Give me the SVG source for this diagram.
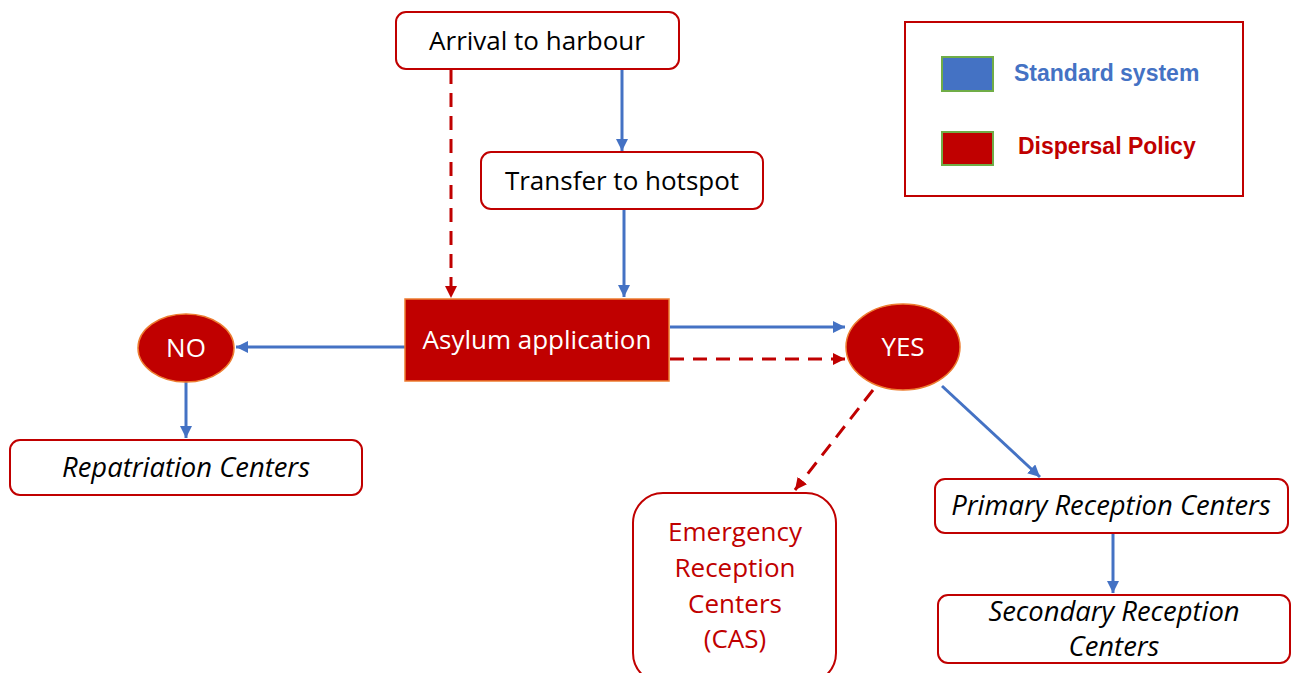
<svg xmlns="http://www.w3.org/2000/svg" width="1299" height="673" viewBox="0 0 1299 673">
<defs>
<marker id="ab" viewBox="0 0 10 10" refX="10" refY="5" markerWidth="4" markerHeight="4" markerUnits="strokeWidth" orient="auto"><path d="M0,0 L10,5 L0,10 z" fill="#4472c4"/></marker>
<marker id="ar" viewBox="0 0 10 10" refX="10" refY="5" markerWidth="4" markerHeight="4" markerUnits="strokeWidth" orient="auto"><path d="M0,0 L10,5 L0,10 z" fill="#c00000"/></marker>
<style>
.box{fill:#fff;stroke:#c00000;stroke-width:2}
.red{fill:#c00000;stroke:#ed7d31;stroke-width:1.5}
.t{font-family:"Open Sans","Noto Sans",sans-serif;font-size:26px;fill:#000;text-anchor:middle}
.w{fill:#fff}
.i{font-style:italic;font-size:27.4px}
.rt{fill:#c00000}
.b{stroke:#4472c4;stroke-width:3;fill:none;marker-end:url(#ab)}
.r{stroke:#c00000;stroke-width:3;fill:none;stroke-dasharray:14 9;marker-end:url(#ar)}
.lg{font-family:"Liberation Sans",Arial,sans-serif;font-size:23px;font-weight:bold}
</style>
</defs>
<rect width="1299" height="673" fill="#fff"/>
<g id="connectors">
<line class="r" x1="451" y1="70" x2="451" y2="298"/>
<line class="b" x1="622" y1="70" x2="622" y2="151"/>
<line class="b" x1="624" y1="209" x2="624" y2="297"/>
<line class="b" x1="405" y1="347" x2="236" y2="347"/>
<line class="b" x1="186" y1="382" x2="186" y2="438"/>
<line class="b" x1="670" y1="327" x2="845" y2="327"/>
<line class="r" x1="670" y1="359" x2="845" y2="359"/>
<line class="r" x1="873" y1="390" x2="795" y2="490"/>
<line class="b" x1="942" y1="386" x2="1040" y2="477"/>
<line class="b" x1="1113" y1="534" x2="1113" y2="593"/>
</g>
<g id="arrival"><rect class="box" x="396" y="12" width="283" height="57" rx="10"/><text class="t" x="537" y="50">Arrival to harbour</text></g>
<g id="transfer"><rect class="box" x="481" y="152" width="282" height="57" rx="10"/><text class="t" x="622" y="190">Transfer to hotspot</text></g>
<g id="asylum"><rect class="red" x="405" y="299" width="264" height="82"/><text class="t w" x="537" y="349">Asylum application</text></g>
<g id="no"><ellipse class="red" cx="186" cy="348" rx="48" ry="34"/><text class="t w" x="186" y="357">NO</text></g>
<g id="yes"><ellipse class="red" cx="903" cy="347" rx="57" ry="43"/><text class="t w" x="903" y="356">YES</text></g>
<g id="repatriation"><rect class="box" x="10" y="440" width="352" height="55" rx="10"/><text class="t i" x="186" y="477">Repatriation Centers</text></g>
<g id="emergency"><rect class="box" x="633" y="493" width="203" height="190" rx="30"/><text class="t rt" x="735" y="541">Emergency</text><text class="t rt" x="735" y="577">Reception</text><text class="t rt" x="735" y="613">Centers</text><text class="t rt" x="735" y="648">(CAS)</text></g>
<g id="primary"><rect class="box" x="935" y="479" width="353" height="54" rx="10"/><text class="t i" x="1111" y="515">Primary Reception Centers</text></g>
<g id="secondary"><rect class="box" x="938" y="595" width="352" height="68" rx="10"/><text class="t i" x="1114" y="621">Secondary Reception</text><text class="t i" x="1114" y="656">Centers</text></g>
<g id="legend">
<rect x="905" y="22" width="338" height="174" fill="#fff" stroke="#c00000" stroke-width="2"/>
<rect x="942" y="57" width="51" height="34" fill="#4472c4" stroke="#70ad47" stroke-width="2"/>
<text class="lg" x="1014" y="81" fill="#4472c4">Standard system</text>
<rect x="942" y="132" width="51" height="33" fill="#c00000" stroke="#70ad47" stroke-width="2"/>
<text class="lg" x="1018" y="154" fill="#c00000">Dispersal Policy</text>
</g>
</svg>
